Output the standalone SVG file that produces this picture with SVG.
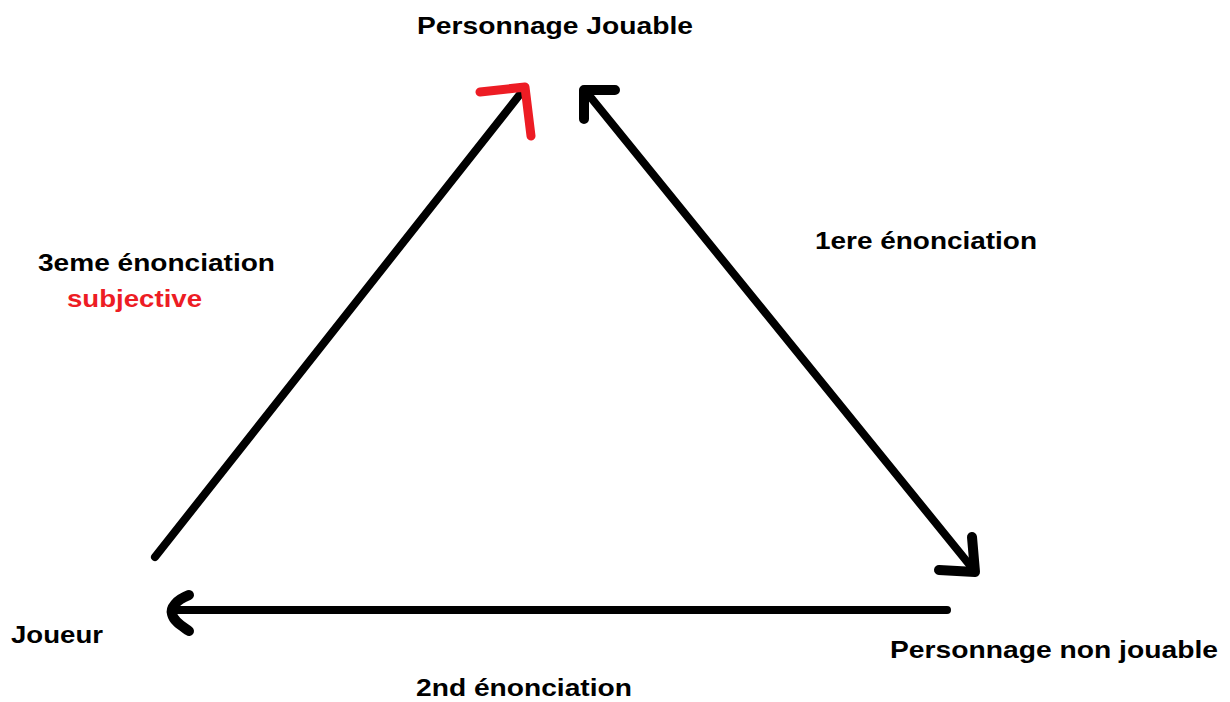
<svg xmlns="http://www.w3.org/2000/svg" width="1230" height="702" viewBox="0 0 1230 702">
<style>
.t{font-family:"Liberation Sans",Arial,sans-serif;font-weight:bold;font-size:24px;fill:#000}
.red{fill:#ed1c24}
.ln{fill:none;stroke:#000;stroke-width:8;stroke-linecap:round;stroke-linejoin:round}
.hd{fill:none;stroke:#000;stroke-width:10;stroke-linecap:round;stroke-linejoin:round}
.hr{fill:none;stroke:#ed1c24;stroke-width:9;stroke-linecap:round;stroke-linejoin:round}
</style>
<rect width="1230" height="702" fill="#fff"/>
<g id="node-pj"><text class="t" x="417" y="34" textLength="276" lengthAdjust="spacingAndGlyphs">Personnage Jouable</text></g>
<g id="node-joueur"><text class="t" x="11" y="643" textLength="92" lengthAdjust="spacingAndGlyphs">Joueur</text></g>
<g id="node-pnj"><text class="t" x="890" y="658" textLength="328" lengthAdjust="spacingAndGlyphs">Personnage non jouable</text></g>
<g id="connectors">
<g id="c1">
<line class="ln" x1="155" y1="557" x2="521" y2="93"/>
<polyline class="hr" points="480,92 525,87 531,136"/>
</g>
<g id="c2">
<line class="ln" x1="588" y1="94" x2="973" y2="569"/>
<polyline class="hd" points="615,90 584,90 584,119"/>
<polyline class="hd" points="972,537 975,572 939,570"/>
</g>
<g id="c3">
<line class="ln" x1="947" y1="610" x2="176" y2="610"/>
<path class="hd" d="M189,595 C176,600 170,608 172,614 C174,622 182,626 189,631"/>
</g>
</g>
<g id="labels">
<text class="t" x="38" y="271" textLength="237" lengthAdjust="spacingAndGlyphs">3eme énonciation</text>
<text class="t red" x="67" y="307" textLength="135" lengthAdjust="spacingAndGlyphs">subjective</text>
<text class="t" x="815" y="249" textLength="222" lengthAdjust="spacingAndGlyphs">1ere énonciation</text>
<text class="t" x="416" y="696" textLength="216" lengthAdjust="spacingAndGlyphs">2nd énonciation</text>
</g>
</svg>
